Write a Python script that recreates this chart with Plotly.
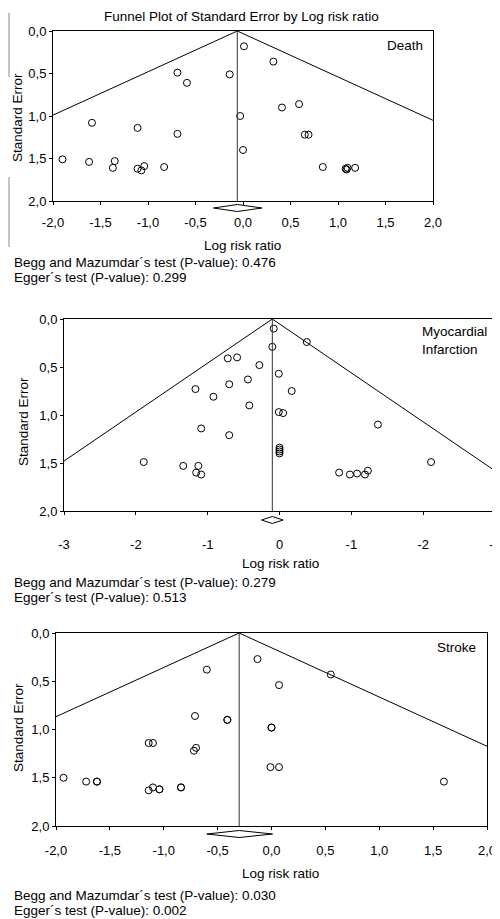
import plotly.graph_objects as go

# page has an 8px body margin: figure occupies the window from (8, 8)
OFF = 8
W, H = 500 - OFF, 919 - OFF

# ---------------- data ----------------
death_lrr = [-1.90, -1.62, -1.59, -1.35, -1.37, -1.11, -1.11, -1.07, -1.04, -0.83,
             -0.69, -0.69, -0.59, -0.14, 0.01, -0.03, 0.00,
             0.32, 0.41, 0.59, 0.65, 0.69, 0.84, 1.08, 1.09, 1.10, 1.18]
death_se = [1.51, 1.54, 1.08, 1.53, 1.61, 1.14, 1.62, 1.64, 1.59, 1.60,
            0.49, 1.21, 0.61, 0.51, 0.18, 1.00, 1.40,
            0.36, 0.90, 0.86, 1.22, 1.22, 1.60, 1.62, 1.63, 1.61, 1.61]
death_pooled = -0.06
death_ci = [-0.31, 0.20]

mi_lrr = [-1.89, -1.34, -1.17, -1.16, -1.13, -1.09, -1.09, -0.92, -0.72, -0.59,
          -0.70, -0.70, -0.44, -0.42, -0.28, -0.08, -0.10, -0.01, 0.17, -0.01,
          0.05, 0.00, 0.00, 0.00, 0.00, 0.38, 1.37, 2.11, 0.83, 0.98, 1.08, 1.19, 1.23]
mi_se = [1.49, 1.53, 0.73, 1.60, 1.53, 1.62, 1.14, 0.81, 0.41, 0.40,
         0.68, 1.21, 0.63, 0.90, 0.48, 0.10, 0.29, 0.57, 0.75, 0.97,
         0.98, 1.34, 1.36, 1.38, 1.40, 0.24, 1.10, 1.49, 1.60, 1.62, 1.61, 1.62, 1.58]
mi_pooled = -0.10
mi_ci = [-0.25, 0.05]

stroke_lrr = [-1.93, -1.72, -1.62, -1.62, -1.14, -1.10, -1.14, -1.10, -1.04, -1.04,
              -0.84, -0.84, -0.72, -0.70, -0.71, -0.60, -0.41, -0.41,
              -0.13, 0.07, 0.55, 0.00, 0.00, -0.01, 0.07, 1.60]
stroke_se = [1.50, 1.54, 1.54, 1.54, 1.14, 1.14, 1.63, 1.60, 1.62, 1.62,
             1.60, 1.60, 1.22, 1.19, 0.86, 0.38, 0.90, 0.90,
             0.27, 0.54, 0.43, 0.98, 0.98, 1.39, 1.39, 1.54]
stroke_pooled = -0.30
stroke_ci = [-0.60, 0.01]

outcome_labels = ["Death", "Myocardial<br>Infarction", "Stroke"]
begg_p = ["0.476", "0.279", "0.030"]
egger_p = ["0.299", "0.513", "0.002"]

x_ticks_a = [-2.0, -1.5, -1.0, -0.5, 0.0, 0.5, 1.0, 1.5, 2.0]
x_labels_a = ["-2,0", "-1,5", "-1,0", "-0,5", "0,0", "0,5", "1,0", "1,5", "2,0"]
x_ticks_mi = [-3, -2, -1, 0, 1, 2, 3]
x_labels_mi = ["-3", "-2", "-1", "0", "-1", "-2", "-3"]
y_ticks = [0.0, 0.5, 1.0, 1.5, 2.0]
y_labels = ["0,0", "0,5", "1,0", "1,5", "2,0"]

z = 1.96
FONT = "Liberation Sans, Arial, sans-serif"


def px(x):
    return (x - OFF) / W


def py(y):
    return 1 - (y - OFF) / H


panels = [
    dict(lrr=death_lrr, se=death_se, pooled=death_pooled, ci=death_ci,
         xr=[-2, 2], xt=x_ticks_a, xl=x_labels_a,
         box=(53, 31, 433, 201), diam_y=208, standoff=6,
         ytitle=(17, 118), xtitle=(242, 245), lab=(405, 45, "center"),
         begg=(262, 277)),
    dict(lrr=mi_lrr, se=mi_se, pooled=mi_pooled, ci=mi_ci,
         xr=[-3, 3], xt=x_ticks_mi, xl=x_labels_mi,
         box=(64, 319, 495, 511), diam_y=520, standoff=18,
         ytitle=(23, 422), xtitle=(280, 563), lab=(420, 340, "left"),
         begg=(582, 597)),
    dict(lrr=stroke_lrr, se=stroke_se, pooled=stroke_pooled, ci=stroke_ci,
         xr=[-2, 2], xt=x_ticks_a, xl=x_labels_a,
         box=(56, 633, 487, 826), diam_y=834, standoff=9,
         ytitle=(18, 728), xtitle=(280, 873), lab=(456, 647, "center"),
         begg=(895, 910)),
]

fig = go.Figure()
annotations = []
shapes = []

for i, p in enumerate(panels):
    n = "" if i == 0 else str(i + 1)
    xa, ya = "x" + n, "y" + n
    x0, y0, x1, y1 = p["box"]

    # studies
    fig.add_trace(go.Scatter(
        x=p["lrr"], y=p["se"], mode="markers", xaxis=xa, yaxis=ya,
        marker=dict(symbol="circle-open", size=7, color="black", line=dict(width=1)),
        showlegend=False, hoverinfo="skip"))

    # funnel lines
    c = p["pooled"]
    se_l = min(2.0, (c - p["xr"][0]) / z)
    se_r = min(2.0, (p["xr"][1] - c) / z)
    fig.add_trace(go.Scatter(
        x=[c - z * se_l, c, c + z * se_r], y=[se_l, 0, se_r], mode="lines",
        xaxis=xa, yaxis=ya, line=dict(color="black", width=1),
        showlegend=False, hoverinfo="skip"))
    fig.add_trace(go.Scatter(
        x=[c, c], y=[0, 2], mode="lines", xaxis=xa, yaxis=ya,
        line=dict(color="#333333", width=1), showlegend=False, hoverinfo="skip"))

    # pooled estimate diamond (below axis)
    yc = py(p["diam_y"])
    hh = 3.5 / H
    lo, hi = p["ci"]
    shapes.append(dict(
        type="path", xref=xa, yref="paper", layer="above",
        path=f"M {lo},{yc} L {c},{yc + hh} L {hi},{yc} L {c},{yc - hh} Z",
        line=dict(color="black", width=1), fillcolor="white"))

    fig.layout["xaxis" + n] = dict(
        domain=[px(x0), px(x1)], anchor=ya, range=p["xr"], automargin=False,
        tickmode="array", tickvals=p["xt"], ticktext=p["xl"],
        ticks="outside", ticklen=3, tickcolor="black", ticklabelstandoff=p["standoff"],
        ticklabeloverflow="allow",
        showline=True, linecolor="black", linewidth=1, mirror=True,
        showgrid=False, zeroline=False,
        tickfont=dict(family=FONT, size=13, color="black"))
    fig.layout["yaxis" + n] = dict(
        domain=[py(y1), py(y0)], anchor=xa, range=[2.0, 0.0], automargin=False,
        tickmode="array", tickvals=y_ticks, ticktext=y_labels,
        ticks="outside", ticklen=3, tickcolor="black",
        showline=True, linecolor="black", linewidth=1, mirror=True,
        showgrid=False, zeroline=False,
        tickfont=dict(family=FONT, size=13, color="black"))

    tf = dict(family=FONT, size=13.5, color="black")
    annotations.append(dict(x=px(p["ytitle"][0]), y=py(p["ytitle"][1]), xref="paper", yref="paper",
                            text="Standard Error", textangle=-90, showarrow=False, font=tf,
                            xanchor="center", yanchor="middle"))
    annotations.append(dict(x=px(p["xtitle"][0]), y=py(p["xtitle"][1]), xref="paper", yref="paper",
                            text="Log risk ratio", showarrow=False, font=tf,
                            xanchor="center", yanchor="middle"))
    lx, ly, la = p["lab"]
    annotations.append(dict(x=px(lx), y=py(ly), xref="paper", yref="paper",
                            text=outcome_labels[i], showarrow=False, font=tf,
                            xanchor=la, yanchor="middle", align="left"))
    annotations.append(dict(x=px(12), y=py(p["begg"][0]), xref="paper", yref="paper",
                            text=f"Begg and Mazumdar´s test (P-value): {begg_p[i]}", showarrow=False,
                            font=tf, xanchor="left", yanchor="middle"))
    annotations.append(dict(x=px(12), y=py(p["begg"][1]), xref="paper", yref="paper",
                            text=f"Egger´s test (P-value): {egger_p[i]}", showarrow=False,
                            font=tf, xanchor="left", yanchor="middle"))

annotations.append(dict(x=px(241), y=py(17), xref="paper", yref="paper",
                        text="Funnel Plot of Standard Error by Log risk ratio", showarrow=False,
                        font=dict(family=FONT, size=13.5, color="black"),
                        xanchor="center", yanchor="middle"))

# scan artefact lines at the left of the first panel
for ya0, ya1 in [(13, 77), (177, 247)]:
    shapes.append(dict(type="line", xref="paper", yref="paper",
                       x0=px(9), x1=px(9), y0=py(ya0), y1=py(ya1),
                       line=dict(color="#888888", width=1)))

fig.update_layout(
    template="none",
    width=W, height=H, margin=dict(l=0, r=0, t=0, b=0, pad=0),
    paper_bgcolor="white", plot_bgcolor="white",
    annotations=annotations, shapes=shapes,
    font=dict(family=FONT, color="black"),
)

fig.write_html("out.html")
